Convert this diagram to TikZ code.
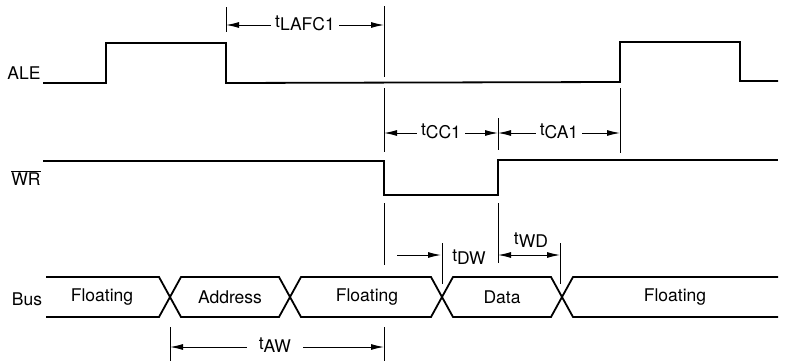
\documentclass[tikz,border=0pt]{standalone}
\usepackage{fontspec}
\setmainfont{TeX Gyre Heros}
\usetikzlibrary{arrows.meta}
\tikzset{
  sig/.style={line width=1.8pt, line join=miter},
  guide/.style={line width=1pt},
  dim/.style={line width=1pt, {Latex[length=13pt,width=6pt]}-{Latex[length=13pt,width=6pt]}},
  dimr/.style={line width=1pt, -{Latex[length=13pt,width=6pt]}},
  lbl/.style={font=\fontsize{17.5}{20}\selectfont, inner sep=0pt},
  gap/.style={lbl, fill=white, inner xsep=4pt, inner ysep=2pt}
}
\newcommand{\tsub}[1]{t\raisebox{-3pt}{#1}}
\begin{document}
\begin{tikzpicture}[x=1pt, y=-1pt]
  \useasboundingbox (0,0) rectangle (785,364);
  % signal names
  \node[lbl] (ale) at (24,73) {ALE};
  \node[lbl] (wr) at (26,178) {$\overline{\mbox{WR}}$};
  \node[lbl] (bus) at (27,299) {Bus};
  % ALE and WR
  \draw[sig] (43,83) -- (106,83) -- (106,43) -- (226,43) -- (226,83) -- (620,82)
    -- (620,42) -- (740,42) -- (740,81) -- (778,81);
  \draw[sig] (43,161) -- (384,161) -- (384,195) -- (498,195) -- (498,160) -- (778,160);
  % bus
  \draw[sig] (46,277) -- (159,277) -- (170,297) -- (159,317) -- (46,317);
  \foreach \a/\b in {170/290, 290/442, 442/562}
    \draw[sig] (\a,297) -- (\a+11,277) -- (\b-11,277) -- (\b,297) -- (\b-11,317) -- (\a+11,317) -- cycle;
  \draw[sig] (778,277) -- (573,277) -- (562,297) -- (573,317) -- (778,317);
  \node[lbl] (float1) at (102,297) {Floating};
  \node[lbl] (addr) at (230,297) {Address};
  \node[lbl] (float2) at (367,297) {Floating};
  \node[lbl] (data) at (502,297) {Data};
  \node[lbl] (float3) at (675,297) {Floating};
  % guide lines
  \draw[guide] (226,7) -- (226,32);
  \draw[guide] (384,6) -- (384,77) (384,88) -- (384,152) (384,203) -- (384,265) (384,327) -- (384,361);
  \draw[guide] (498,118) -- (498,150) (498,203) -- (498,263);
  \draw[guide] (620,88) -- (620,153);
  \draw[guide] (442,243) -- (442,284);
  \draw[guide] (560,243) -- (560,284);
  \draw[guide] (170,327) -- (170,361);
  % timing arrows
  \coordinate (lafcA) at (226,25);
  \coordinate (lafcB) at (384,25);
  \draw[dim] (lafcA) -- (lafcB) node[gap, midway, yshift=2pt] (tlafc) {\tsub{LAFC1}};
  \coordinate (ccA) at (384,133);
  \coordinate (ccB) at (498,133);
  \coordinate (caB) at (620,133);
  \draw[dim] (ccA) -- (ccB) node[gap, midway, yshift=2pt] (tcc) {\tsub{CC1}};
  \draw[dim] (ccB) -- (caB) node[gap, midway, yshift=2pt] (tca) {\tsub{CA1}};
  \coordinate (dwA) at (397,255);
  \coordinate (dwB) at (441,255);
  \draw[dimr] (dwA) -- (dwB);
  \node[lbl] (tdw) at (469,257) {\tsub{DW}};
  \coordinate (wdA) at (498,255);
  \coordinate (wdB) at (560,255);
  \draw[dim] (wdA) -- (wdB);
  \node[lbl] (twd) at (531,240) {\tsub{WD}};
  \coordinate (awA) at (170,347);
  \coordinate (awB) at (384,347);
  \draw[dim] (awA) -- (awB) node[gap, pos=0.49, yshift=2pt, inner xsep=12pt] (taw) {\tsub{AW}};
\end{tikzpicture}
\end{document}
